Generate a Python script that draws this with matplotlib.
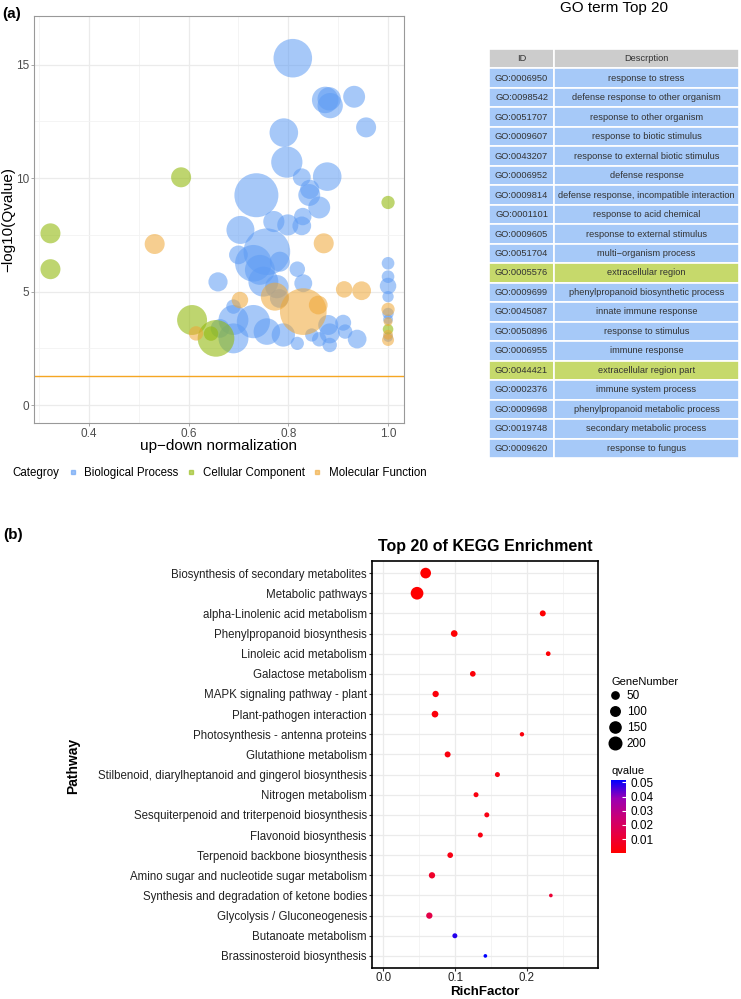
import numpy as np
import matplotlib
matplotlib.use("Agg")
import matplotlib.pyplot as plt
from matplotlib.lines import Line2D
from matplotlib.patches import Rectangle
from matplotlib.colors import LinearSegmentedColormap, Normalize
from matplotlib.ticker import MultipleLocator

plt.rcParams['font.family'] = ['Liberation Sans', 'DejaVu Sans']

# ---------------- data: GO bubble chart ----------------
bp_x = [0.809, 0.874, 0.884, 0.882, 0.932, 0.956, 0.791, 0.797, 0.827, 0.878,
        0.843, 0.842, 0.862, 0.736, 0.771, 0.799, 0.827, 0.829, 0.704, 0.700,
        0.757, 0.730, 0.783, 0.743, 0.750, 0.818, 0.659, 0.777, 0.830, 0.690,
        0.690, 0.730, 0.690, 0.757, 0.790, 0.818, 0.910, 0.914, 0.880, 0.883,
        0.847, 0.862, 0.883, 0.938, 1.0, 1.0, 1.0, 1.0, 1.0, 1.0,
        1.0, 0.663, 0.782]
bp_y = [15.29, 13.45, 13.20, 13.50, 13.59, 12.24, 12.01, 10.71, 10.04, 10.07,
        9.51, 9.26, 8.71, 9.25, 8.09, 7.94, 7.90, 8.31, 7.72, 6.62,
        6.76, 6.25, 6.32, 5.96, 5.44, 5.99, 5.43, 5.22, 5.37, 4.34,
        3.75, 3.68, 2.94, 3.24, 3.09, 2.72, 3.63, 3.24, 3.53, 3.16,
        3.09, 2.90, 2.65, 2.91, 6.25, 5.66, 5.25, 4.78, 4.04, 3.78,
        3.00, 3.38, 4.70]
bp_n = [93, 44, 40, 34, 30, 25, 51, 61, 20, 51,
        23, 30, 30, 121, 28, 28, 22, 19, 49, 22,
        136, 84, 25, 56, 56, 15, 23, 34, 20, 13,
        56, 69, 56, 44, 34, 11, 16, 13, 25, 25,
        11, 13, 13, 22, 10, 10, 17, 8, 8, 6,
        6, 22, 22]

cc_x = [0.323, 0.323, 0.585, 1.0, 0.607, 0.655, 0.645, 1.0]
cc_y = [7.57, 5.99, 10.04, 8.93, 3.75, 2.94, 3.15, 3.34]
cc_n = [25, 25, 25, 11, 56, 84, 13, 7]

mf_x = [0.532, 0.871, 0.703, 0.773, 0.830, 0.860, 0.912, 0.947, 0.615, 1.0, 1.0, 1.0, 1.0]
mf_y = [7.10, 7.13, 4.63, 4.78, 4.12, 4.41, 5.10, 5.04, 3.16, 4.22, 3.68, 2.87, 3.10]
mf_n = [25, 25, 17, 49, 136, 22, 17, 22, 13, 11, 5, 9, 6]

q_cut = 0.05

# ---------------- data: GO table ----------------
go_ids = ['GO:0006950', 'GO:0098542', 'GO:0051707', 'GO:0009607', 'GO:0043207',
          'GO:0006952', 'GO:0009814', 'GO:0001101', 'GO:0009605', 'GO:0051704',
          'GO:0005576', 'GO:0009699', 'GO:0045087', 'GO:0050896', 'GO:0006955',
          'GO:0044421', 'GO:0002376', 'GO:0009698', 'GO:0019748', 'GO:0009620']
go_desc = ['response to stress', 'defense response to other organism',
           'response to other organism', 'response to biotic stimulus',
           'response to external biotic stimulus', 'defense response',
           'defense response, incompatible interaction', 'response to acid chemical',
           'response to external stimulus', 'multi\u2212organism process',
           'extracellular region', 'phenylpropanoid biosynthetic process',
           'innate immune response', 'response to stimulus', 'immune response',
           'extracellular region part', 'immune system process',
           'phenylpropanoid metabolic process', 'secondary metabolic process',
           'response to fungus']
go_cat = ['BP'] * 10 + ['CC'] + ['BP'] * 4 + ['CC'] + ['BP'] * 4

# ---------------- data: KEGG ----------------
kegg_path = ['Biosynthesis of secondary metabolites', 'Metabolic pathways',
             'alpha-Linolenic acid metabolism', 'Phenylpropanoid biosynthesis',
             'Linoleic acid metabolism', 'Galactose metabolism',
             'MAPK signaling pathway - plant', 'Plant-pathogen interaction',
             'Photosynthesis - antenna proteins', 'Glutathione metabolism',
             'Stilbenoid, diarylheptanoid and gingerol biosynthesis',
             'Nitrogen metabolism', 'Sesquiterpenoid and triterpenoid biosynthesis',
             'Flavonoid biosynthesis', 'Terpenoid backbone biosynthesis',
             'Amino sugar and nucleotide sugar metabolism',
             'Synthesis and degradation of ketone bodies',
             'Glycolysis / Gluconeogenesis', 'Butanoate metabolism',
             'Brassinosteroid biosynthesis']
kegg_rich = [0.0588, 0.0468, 0.222, 0.0986, 0.2296, 0.1245, 0.0727, 0.0718, 0.193, 0.0894,
             0.1588, 0.129, 0.144, 0.135, 0.093, 0.0676, 0.2333, 0.0639, 0.0995, 0.142]
kegg_genes = [134, 203, 28, 39, 13, 24, 33, 39, 10, 28,
              16, 16, 16, 16, 24, 33, 5, 33, 16, 5]
kegg_q = [0.0003, 0.0004, 0.0008, 0.0010, 0.0015, 0.0020, 0.0025, 0.0025, 0.0030, 0.0030,
          0.0035, 0.0035, 0.0040, 0.0040, 0.0045, 0.0090, 0.0110, 0.0150, 0.0485, 0.0516]
size_breaks = [50, 100, 150, 200]
q_breaks = [0.01, 0.02, 0.03, 0.04, 0.05]

W, H = 741, 999
fig = plt.figure(figsize=(W / 100, H / 100), dpi=100)

def fx(px):
    return px / W

def fy(py):
    return 1 - py / H

# ================= panel (a) =================
ax = fig.add_axes([fx(34), fy(423), fx(404) - fx(34), fy(16) - fy(423)])
cols = {'BP': '#5E9CF4', 'CC': '#93BA10', 'MF': '#EFA735'}

def go_s(n):
    d_px = 4 * np.sqrt(np.array(n))
    return (d_px * 0.72) ** 2

ax.scatter(bp_x, bp_y, s=go_s(bp_n), color=cols['BP'], alpha=0.55, linewidths=0, zorder=3)
ax.scatter(cc_x, cc_y, s=go_s(cc_n), color=cols['CC'], alpha=0.6, linewidths=0, zorder=3)
ax.scatter(mf_x, mf_y, s=go_s(mf_n), color=cols['MF'], alpha=0.55, linewidths=0, zorder=3)
ax.axhline(-np.log10(q_cut), color='#F5A623', lw=1, zorder=2)

ax.set_xlim(0.290, 1.032)
ax.set_ylim(-0.79, 17.15)
ax.set_xticks([0.4, 0.6, 0.8, 1.0])
ax.set_yticks([0, 5, 10, 15])
ax.xaxis.set_minor_locator(MultipleLocator(0.1))
ax.yaxis.set_minor_locator(MultipleLocator(2.5))
ax.grid(which='major', color='#EBEBEB', lw=0.9)
ax.grid(which='minor', color='#F3F3F3', lw=0.6)
ax.set_axisbelow(True)
ax.tick_params(which='minor', length=0)
ax.tick_params(which='major', length=2.2, color='#999999', labelsize=8.5,
               labelcolor='#4D4D4D', width=0.6, pad=1.5)
for sp in ax.spines.values():
    sp.set_color('#999999')
    sp.set_linewidth(0.8)

fig.text(fx(219), fy(446), 'up\u2212down normalization', fontsize=11, ha='center', va='center')
fig.text(fx(8), fy(220), '\u2212log10(Qvalue)', fontsize=11, rotation=90, ha='center', va='center')
fig.text(fx(2), fy(14), '(a)', fontsize=11, weight='bold', ha='left', va='center')

fig.text(fx(12), fy(473), 'Categroy', fontsize=8.3, ha='left', va='center')
handles = [Line2D([], [], ls='', marker='s', markersize=2.5, color=cols[k], alpha=0.6)
           for k in ['BP', 'CC', 'MF']]
fig.legend(handles, ['Biological Process', 'Cellular Component', 'Molecular Function'],
           loc='center left', bbox_to_anchor=(fx(68), fy(473)), ncol=3, frameon=False,
           fontsize=8.3, handlelength=0.8, handletextpad=0.6, columnspacing=0.7,
           borderaxespad=0, borderpad=0)

# ================= GO table =================
tx0, tx1, ty0, ty1 = 489, 739, 49, 458
tax = fig.add_axes([fx(tx0), fy(ty1), fx(tx1) - fx(tx0), fy(ty0) - fy(ty1)])
tax.set_xlim(0, 1)
tax.set_ylim(len(go_ids) + 1, 0)
tax.axis('off')
split = (554 - tx0) / (tx1 - tx0)
row_cols = {'BP': '#A6C9F8', 'CC': '#C6D96B'}
rows = [('ID', 'Descrption', '#CCCCCC')] + \
    [(i, d, row_cols[c]) for i, d, c in zip(go_ids, go_desc, go_cat)]
for r, (gid, desc, c) in enumerate(rows):
    tax.add_patch(Rectangle((0, r), split, 1, facecolor=c, edgecolor='white', lw=1.2))
    tax.add_patch(Rectangle((split, r), 1 - split, 1, facecolor=c, edgecolor='white', lw=1.2))
    tax.text(split / 2, r + 0.5, gid, fontsize=6.7, color='#333333', ha='center', va='center')
    tax.text((split + 1) / 2, r + 0.5, desc, fontsize=6.7, color='#333333', ha='center', va='center')
fig.text(fx(614), fy(8), 'GO term Top 20', fontsize=11, ha='center', va='center')

# ================= panel (b) =================
bx = fig.add_axes([fx(372), fy(968), fx(598) - fx(372), fy(561) - fy(968)])
cmap = LinearSegmentedColormap.from_list(
    'rb', [(0, '#FF0000'), (0.25, '#E8003F'), (0.5, '#C80078'),
           (0.75, '#9A00B4'), (1, '#0000FF')])
norm = Normalize(vmin=min(kegg_q), vmax=max(kegg_q))

def kegg_d(n):
    return (2.0 + 0.75 * np.sqrt(np.array(n, dtype=float))) * 0.72

ypos = np.arange(len(kegg_path))[::-1] + 1
bx.scatter(kegg_rich, ypos, s=kegg_d(kegg_genes) ** 2, c=kegg_q, cmap=cmap, norm=norm,
           linewidths=0, zorder=3)
bx.set_yticks(ypos)
bx.set_yticklabels(kegg_path)
bx.set_ylim(0.4, len(kegg_path) + 0.6)
bx.set_xlim(-0.016, 0.299)
bx.set_xticks([0.0, 0.1, 0.2])
bx.set_xticklabels(['0.0', '0.1', '0.2'])
bx.xaxis.set_minor_locator(MultipleLocator(0.05))
bx.grid(which='major', color='#EBEBEB', lw=0.9)
bx.grid(which='minor', axis='x', color='#F3F3F3', lw=0.6)
bx.set_axisbelow(True)
bx.tick_params(which='minor', length=0)
bx.tick_params(which='major', length=2.2, color='#333333', labelsize=8.3,
               labelcolor='#222222', width=0.8, pad=1.5)
bx.tick_params(axis='x', labelsize=8.3, pad=0.8)
for sp in bx.spines.values():
    sp.set_color('black')
    sp.set_linewidth(1.2)

fig.text(fx(485), fy(546), 'Top 20 of KEGG Enrichment', fontsize=11.5, weight='bold',
         ha='center', va='center')
fig.text(fx(485), fy(998), 'RichFactor', fontsize=9.6, weight='bold', ha='center', va='bottom')
fig.text(fx(73), fy(766), 'Pathway', fontsize=10, weight='bold', rotation=90,
         ha='center', va='center')
fig.text(fx(3), fy(535), '(b)', fontsize=11, weight='bold', ha='left', va='center')

# size legend
fig.text(fx(612), fy(682), 'GeneNumber', fontsize=8, ha='left', va='center')
sh = [Line2D([], [], ls='', marker='o', color='black', markersize=kegg_d(v)) for v in size_breaks]
fig.legend(sh, [str(v) for v in size_breaks], loc='upper left',
           bbox_to_anchor=(fx(609), fy(690)), frameon=False, fontsize=8.5,
           handlelength=1.0, handletextpad=0.5, labelspacing=0.35,
           borderaxespad=0, borderpad=0)

# colour bar
fig.text(fx(612), fy(771), 'qvalue', fontsize=8, ha='left', va='center')
cax = fig.add_axes([fx(611), fy(853), fx(626) - fx(611), fy(780) - fy(853)])
cb = fig.colorbar(plt.cm.ScalarMappable(norm=norm, cmap=cmap), cax=cax)
cb.set_ticks(q_breaks)
cb.set_ticklabels(['%.2f' % v for v in q_breaks])
cb.outline.set_visible(False)
cax.tick_params(length=3, color='white', width=0.8, labelsize=8.5, direction='in', pad=3)

fig.savefig('out.png', dpi=100)
